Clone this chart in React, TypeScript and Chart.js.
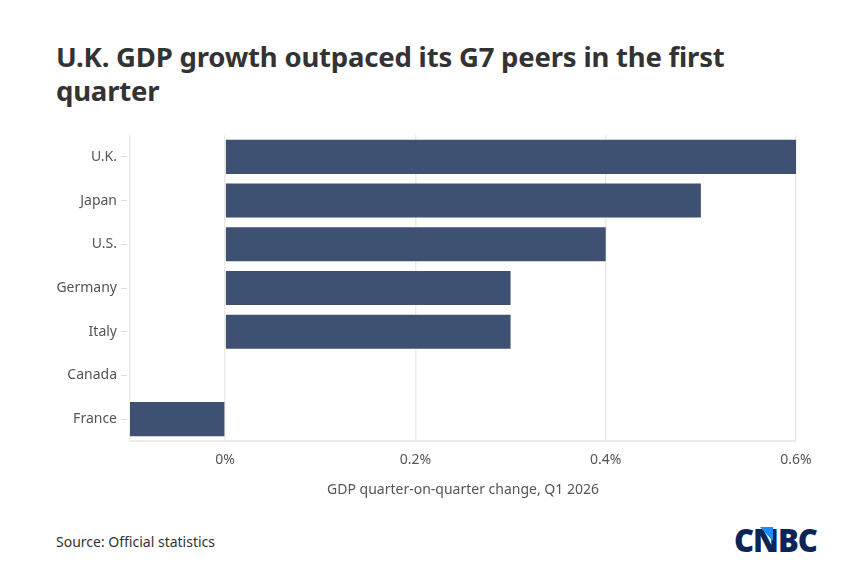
import React, { useEffect, useRef } from "react";
import { Chart, registerables } from "chart.js";

Chart.register(...registerables);

const categories = ["U.K.", "Japan", "U.S.", "Germany", "Italy", "Canada", "France"];
const growth = [0.6, 0.5, 0.4, 0.3, 0.3, 0, -0.1];
const tickValues = [-0.1, 0, 0.2, 0.4, 0.6];

const FONT = "'Noto Sans', Lato, sans-serif";

export default function App() {
  const ref = useRef<HTMLCanvasElement | null>(null);

  useEffect(() => {
    if (!ref.current) return;
    const chart = new Chart(ref.current, {
      type: "bar",
      data: {
        labels: categories,
        datasets: [
          {
            data: growth,
            backgroundColor: "#3f5173",
            borderWidth: 0,
            barPercentage: 0.78,
            categoryPercentage: 1,
          },
        ],
      },
      options: {
        indexAxis: "y",
        animation: false,
        responsive: false,
        maintainAspectRatio: false,
        layout: { padding: { left: 0, right: 56, top: 15, bottom: 12 } },
        plugins: { legend: { display: false }, tooltip: { enabled: false } },
        scales: {
          x: {
            min: -0.1,
            max: 0.6,
            afterBuildTicks: (scale: any) => {
              scale.ticks = tickValues.map((v) => ({ value: v }));
            },
            afterFit: (scale: any) => {
              scale.height = 57;
            },
            grid: {
              color: "#ebebeb",
              lineWidth: 1.5,
              drawTicks: false,
            },
            border: { display: true, color: "#ebebeb", width: 2 },
            ticks: {
              padding: 11,
              color: "#555555",
              font: { family: FONT, size: 14 },
              callback: (v: any) => (Number(v) < -0.05 ? "" : `${Math.round(Number(v) * 10) / 10}%`),
            },
            title: {
              display: true,
              text: "GDP quarter-on-quarter change, Q1 2026",
              color: "#555555",
              font: { family: FONT, size: 14 },
              padding: { top: 8, bottom: 0 },
            },
          },
          y: {
            afterFit: (scale: any) => {
              scale.width = 130;
            },
            grid: {
              display: true,
              offset: false,
              drawOnChartArea: false,
              drawTicks: true,
              tickLength: 9,
              tickColor: "#dddddd",
              tickBorderDash: [6, 10],
            },
            border: { display: false },
            ticks: {
              padding: 4,
              color: "#555555",
              font: { family: FONT, size: 14 },
            },
          },
        },
      },
    });
    return () => chart.destroy();
  }, []);

  return (
    <div
      style={{
        position: "absolute",
        left: 0,
        top: 0,
        width: 852,
        height: 582,
        background: "#ffffff",
        overflow: "hidden",
      }}
    >
      <div
        style={{
          position: "absolute",
          left: 56,
          top: 40,
          width: 700,
          fontFamily: FONT,
          fontWeight: 700,
          fontSize: 27.5,
          lineHeight: "34px",
          color: "#333333",
          letterSpacing: "-0.2px",
        }}
      >
        U.K. GDP growth outpaced its G7 peers in the first quarter
      </div>
      <canvas
        ref={ref}
        width={852}
        height={390}
        style={{ position: "absolute", left: 0, top: 120, width: 852, height: 390 }}
      />
      <div
        style={{
          position: "absolute",
          left: 56,
          top: 532,
          fontFamily: FONT,
          fontSize: 14,
          color: "#333333",
        }}
      >
        Source: Official statistics
      </div>
      <div
        style={{
          position: "absolute",
          left: 734,
          top: 522,
          fontFamily: "'Open Sans', 'Noto Sans', sans-serif",
          fontWeight: 800,
          fontSize: 31,
          lineHeight: "36px",
          color: "#0c2557",
          letterSpacing: "-1px",
        }}
      >
        CNBC
      </div>
      <div
        style={{
          position: "absolute",
          left: 760,
          top: 527,
          width: 0,
          height: 0,
          borderLeft: "13px solid transparent",
          borderTop: "14px solid #1a8cff",
        }}
      />
    </div>
  );
}
